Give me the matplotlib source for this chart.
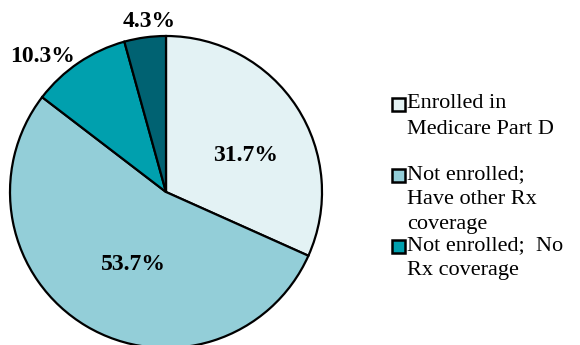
import numpy as np
import matplotlib.pyplot as plt
from matplotlib.patches import Rectangle

# slice shares (percent), clockwise from 12 o'clock
shares = [31.7, 53.7, 10.3, 4.3]
share_labels = ["31.7%", "53.7%", "10.3%", "4.3%"]
colors = ["#E3F2F4", "#93CED8", "#00A0AE", "#006272"]
legend_labels = ["Enrolled in\nMedicare Part D",
                 "Not enrolled;\nHave other Rx\ncoverage",
                 "Not enrolled;  No\nRx coverage"]

FONT = "Liberation Serif"
W, H = 580, 345

fig = plt.figure(figsize=(W / 100, H / 100), dpi=100)
cx, cy, r = 166, H - 192, 156
ax = fig.add_axes([(cx - r) / W, (cy - r) / H, 2 * r / W, 2 * r / H])

wedges, _ = ax.pie(shares, colors=colors, startangle=90, counterclock=False,
                   radius=1.0,
                   wedgeprops=dict(edgecolor="black", linewidth=1.6))
ax.set_xlim(-1, 1)
ax.set_ylim(-1, 1)
ax.set_aspect("equal")
ax.axis("off")

# label placement: distance from centre (fraction of radius), angle tweak (deg)
label_r = [0.56, 0.51, 1.175, 1.10]
label_dang = [-8, 6.5, 8.5, -2]
for w, txt, lr, da in zip(wedges, share_labels, label_r, label_dang):
    ang = np.deg2rad((w.theta1 + w.theta2) / 2 + da)
    ax.text(lr * np.cos(ang), lr * np.sin(ang), txt, ha="center", va="center",
            fontsize=17, fontweight="bold", family=FONT, clip_on=False)

# hand-placed legend (entries overlap slightly, as in the source)
entry_top = [104, 175, 246]
line_h = 25
for top, lab, col in zip(entry_top, legend_labels, colors):
    fig.patches.append(Rectangle((392 / W, 1 - (top + 6.5) / H), 13 / W, 13 / H,
                                 transform=fig.transFigure, facecolor=col,
                                 edgecolor="black", linewidth=1.8))
    for i, line in enumerate(lab.split("\n")):
        fig.text(407 / W, 1 - (top + i * line_h) / H, line, ha="left",
                 va="center", fontsize=16, family=FONT)

fig.savefig("out.png", dpi=100)
